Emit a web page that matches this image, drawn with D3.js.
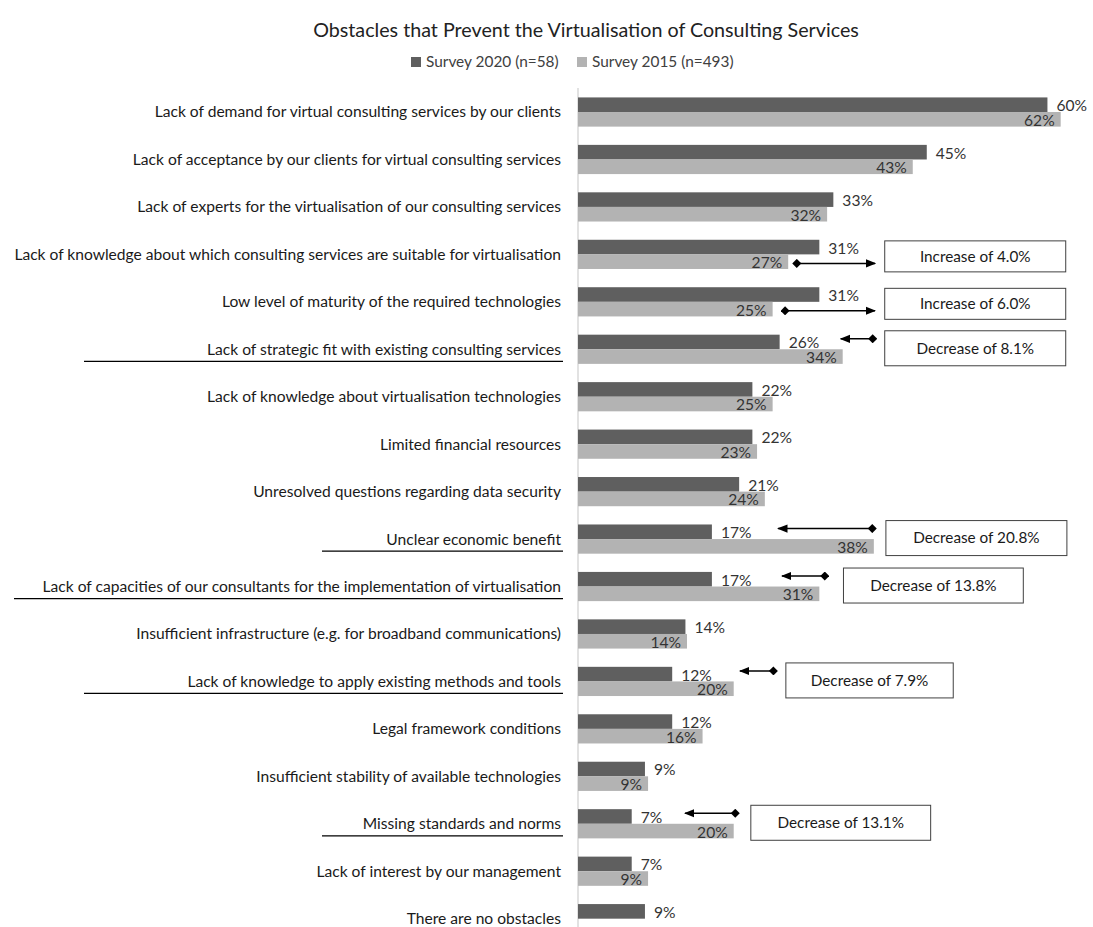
<!DOCTYPE html>
<html>
<head>
<meta charset="utf-8">
<script src="https://cdn.jsdelivr.net/npm/d3@7"></script>
<style>
  body { margin: 0; background: #fff; }
  svg { font-family: Lato, "Open Sans", sans-serif; }
</style>
</head>
<body>
<div id="chart"></div>
<script>
//categories, top to bottom
var categories = [
  "Lack of demand for virtual consulting services by our clients",
  "Lack of acceptance by our clients for virtual consulting services",
  "Lack of experts for the virtualisation of our consulting services",
  "Lack of knowledge about which consulting services are suitable for virtualisation",
  "Low level of maturity of the required technologies",
  "Lack of strategic fit with existing consulting services",
  "Lack of knowledge about virtualisation technologies",
  "Limited financial resources",
  "Unresolved questions regarding data security",
  "Unclear economic benefit",
  "Lack of capacities of our consultants for the implementation of virtualisation",
  "Insufficient infrastructure (e.g. for broadband communications)",
  "Lack of knowledge to apply existing methods and tools",
  "Legal framework conditions",
  "Insufficient stability of available technologies",
  "Missing standards and norms",
  "Lack of interest by our management",
  "There are no obstacles"
];

//share of answers in percent
var survey2020 = [60.3, 44.8, 32.8, 31.0, 31.0, 25.9, 22.4, 22.4, 20.7, 17.2, 17.2, 13.8, 12.1, 12.1, 8.6, 6.9, 6.9, 8.6];
var survey2015 = [62, 43, 32, 27.0, 25.0, 34.0, 25, 23, 24, 38.0, 31.0, 14, 20.0, 16, 9, 20.0, 9, null];

var seriesNames = ["Survey 2020 (n=58)", "Survey 2015 (n=493)"];

//the change notes: row, text, arrow span and box span (in percent units)
var noteRows = [3, 4, 5, 9, 10, 12, 15];
var noteTexts = ["Increase of 4.0%", "Increase of 6.0%", "Decrease of 8.1%", "Decrease of 20.8%",
  "Decrease of 13.8%", "Decrease of 7.9%", "Decrease of 13.1%"];
var noteArrows = [[28.1, 38.15], [26.6, 38.15], [33.75, 37.85], [25.7, 37.8], [26.2, 31.7], [20.8, 25.1], [13.75, 20.2]];
var noteBoxes = [[39.4, 62.65], [39.4, 62.65], [39.4, 62.65], [39.55, 62.8], [34.1, 57.2], [26.7, 48.2], [22.2, 45.3]];

//rows whose label is underlined, and where the line starts
var underlineRows = [5, 9, 10, 12, 15];
var underlineStart = [84, 322, 14, 84, 322];

var width = 1093, height = 927;
var darkColor = "#5f5f5f", lightColor = "#b3b3b3";
var labelSize = "15.6px";

var svg = d3.select("#chart").append("svg")
  .attr("width", width)
  .attr("height", height);

//x goes from the axis line to the right, y is a band per category
var x = d3.scaleLinear().domain([0, 100]).range([578, 578 + 778.5]);
var y = d3.scaleBand().domain(d3.range(categories.length)).range([88.3, 88.3 + 18 * 47.45]);
var barH = 14.6;
function mid(i) { return y(i) + y.bandwidth() / 2; }
var pct = d3.format(".0%");

//title
svg.append("text")
  .attr("x", 586).attr("y", 37)
  .attr("text-anchor", "middle")
  .style("font-size", "19.7px")
  .style("fill", "#222")
  .text("Obstacles that Prevent the Virtualisation of Consulting Services");

//legend
var legendX = [411, 577];
var legendColors = [darkColor, lightColor];
seriesNames.forEach(function(name, k) {
  svg.append("rect")
    .attr("x", legendX[k]).attr("y", 57).attr("width", 10).attr("height", 10)
    .attr("fill", legendColors[k]);
  svg.append("text")
    .attr("x", legendX[k] + 15).attr("y", 62).attr("dy", "0.35em")
    .style("font-size", "15.4px").style("fill", "#404040")
    .text(name);
});

//vertical axis line
svg.append("line")
  .attr("x1", x(0)).attr("x2", x(0))
  .attr("y1", 88).attr("y2", height)
  .attr("stroke", "#d9d9d9").attr("stroke-width", 1.5);

//category labels
svg.append("g").selectAll("text")
  .data(categories)
  .enter().append("text")
  .attr("x", 561)
  .attr("y", function(d, i) { return mid(i); })
  .attr("dy", "0.35em")
  .attr("text-anchor", "end")
  .style("font-size", labelSize)
  .style("fill", "#1a1a1a")
  .text(function(d) { return d; });

//underlines
underlineRows.forEach(function(r, k) {
  svg.append("line")
    .attr("x1", underlineStart[k]).attr("x2", 563)
    .attr("y1", mid(r) + 12).attr("y2", mid(r) + 12)
    .attr("stroke", "#000").attr("stroke-width", 1.2);
});

//2020 bars with labels outside
var bars = svg.append("g");
bars.selectAll(".b20")
  .data(survey2020)
  .enter().append("rect")
  .attr("class", "b20")
  .attr("x", x(0))
  .attr("y", function(d, i) { return mid(i) - barH; })
  .attr("width", function(d) { return x(d) - x(0); })
  .attr("height", barH)
  .attr("fill", darkColor);

bars.selectAll(".l20")
  .data(survey2020)
  .enter().append("text")
  .attr("class", "l20")
  .attr("x", function(d) { return x(d) + 9; })
  .attr("y", function(d, i) { return mid(i) - barH / 2 + 1; })
  .attr("dy", "0.35em")
  .style("font-size", labelSize).style("fill", "#333")
  .text(function(d) { return pct(d / 100); });

//2015 bars with labels inside the end
var data15 = survey2015.map(function(v, i) { return { v: v, i: i }; })
  .filter(function(d) { return d.v != null; });

bars.selectAll(".b15")
  .data(data15)
  .enter().append("rect")
  .attr("class", "b15")
  .attr("x", x(0))
  .attr("y", function(d) { return mid(d.i); })
  .attr("width", function(d) { return x(d.v) - x(0); })
  .attr("height", barH)
  .attr("fill", lightColor);

bars.selectAll(".l15")
  .data(data15)
  .enter().append("text")
  .attr("class", "l15")
  .attr("x", function(d) { return x(d.v) - 6; })
  .attr("y", function(d) { return mid(d.i) + barH / 2 + 1; })
  .attr("dy", "0.35em")
  .attr("text-anchor", "end")
  .style("font-size", labelSize).style("fill", "#333")
  .text(function(d) { return pct(d.v / 100); });

//arrow heads and diamonds
var defs = svg.append("defs");
defs.append("marker")
  .attr("id", "head").attr("viewBox", "0 0 10 10")
  .attr("refX", 9).attr("refY", 5)
  .attr("markerWidth", 7).attr("markerHeight", 7)
  .attr("orient", "auto-start-reverse")
  .append("path").attr("d", "M0,1 L10,5 L0,9 Z").attr("fill", "#000");
defs.append("marker")
  .attr("id", "diamond").attr("viewBox", "0 0 10 10")
  .attr("refX", 5).attr("refY", 5)
  .attr("markerWidth", 6).attr("markerHeight", 6)
  .append("path").attr("d", "M5,0 L10,5 L5,10 L0,5 Z").attr("fill", "#000");

//change notes
noteRows.forEach(function(r, k) {
  var up = noteTexts[k].indexOf("Increase") === 0;
  var ay = up ? mid(r) + 9 : mid(r) - 10.5;
  var line = svg.append("line")
    .attr("x1", x(noteArrows[k][0])).attr("x2", x(noteArrows[k][1]))
    .attr("y1", ay).attr("y2", ay)
    .attr("stroke", "#000").attr("stroke-width", 1.5);
  if (up) {
    line.attr("marker-start", "url(#diamond)").attr("marker-end", "url(#head)");
  } else {
    line.attr("marker-start", "url(#head)").attr("marker-end", "url(#diamond)");
  }

  var bx = x(noteBoxes[k][0]), bw = x(noteBoxes[k][1]) - bx;
  var bh = k < 2 ? 31 : 35;
  var by = mid(r) - bh / 2 + (k < 2 ? 2 : -1);
  svg.append("rect")
    .attr("x", bx).attr("y", by).attr("width", bw).attr("height", bh)
    .attr("fill", "#fff").attr("stroke", "#404040").attr("stroke-width", 1);
  svg.append("text")
    .attr("x", bx + bw / 2).attr("y", by + bh / 2)
    .attr("dy", "0.35em").attr("text-anchor", "middle")
    .style("font-size", "15.3px").style("fill", "#1a1a1a")
    .text(noteTexts[k]);
});
</script>
</body>
</html>
